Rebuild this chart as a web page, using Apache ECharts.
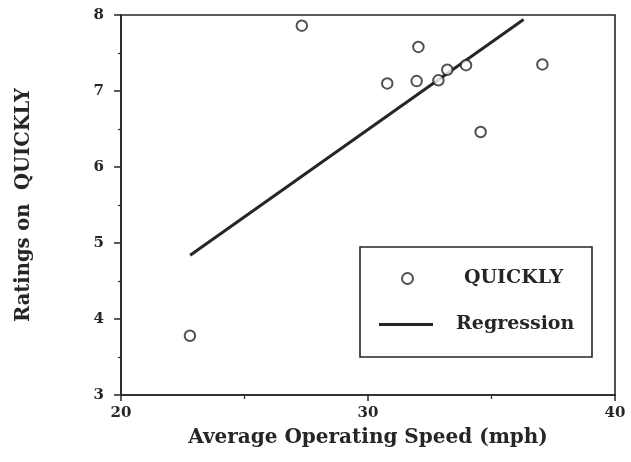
<!DOCTYPE html>
<html>
<head>
<meta charset="utf-8">
<script src="https://cdn.jsdelivr.net/npm/echarts@6/dist/echarts.min.js"></script>
<style>
  html, body { margin: 0; padding: 0; background: #fff; }
  #chart { width: 631px; height: 462px; }
</style>
</head>
<body>
<div id="chart"></div>
<script>
// Observed ratings against average operating speed
const speed  = [22.79, 27.32, 30.78, 31.97, 32.04, 32.85, 33.21, 33.97, 34.56, 37.06];
const rating = [3.78, 7.86, 7.10, 7.13, 7.58, 7.14, 7.28, 7.34, 6.46, 7.35];

// Fitted regression line endpoints
const regSpeed  = [22.8, 36.3];
const regRating = [4.84, 7.94];

const xTicks = { min: 20, max: 40, step: 10 };
const yTicks = { min: 3, max: 8, step: 1 };

const ink = '#262626';
const font = 'DejaVu Serif';

const chart = echarts.init(document.getElementById('chart'), null, { renderer: 'canvas' });

chart.setOption({
  backgroundColor: '#ffffff',
  animation: false,
  grid: {
    left: 121, right: 16, top: 15, bottom: 67,
    show: true, borderColor: ink, borderWidth: 1.6, backgroundColor: 'transparent'
  },
  xAxis: {
    type: 'value',
    min: xTicks.min, max: xTicks.max, interval: xTicks.step,
    name: 'Average Operating Speed (mph)',
    nameLocation: 'middle', nameGap: 33,
    nameTextStyle: { fontFamily: font, fontWeight: 'bold', fontSize: 20, color: ink },
    axisLine: { show: true, lineStyle: { color: ink, width: 1.6 } },
    axisTick: { show: true, length: 6, lineStyle: { color: ink, width: 1.5 } },
    minorTick: { show: true, splitNumber: 2, length: 4, lineStyle: { color: ink, width: 1.2 } },
    axisLabel: { fontFamily: font, fontWeight: 'bold', fontSize: 15, color: ink, margin: 11 },
    splitLine: { show: false }
  },
  yAxis: {
    type: 'value',
    min: yTicks.min, max: yTicks.max, interval: yTicks.step,
    name: 'Ratings on  QUICKLY',
    nameLocation: 'middle', nameGap: 87,
    nameTextStyle: { fontFamily: font, fontWeight: 'bold', fontSize: 19.5, color: ink },
    axisLine: { show: true, lineStyle: { color: ink, width: 1.6 } },
    axisTick: { show: true, length: 7, lineStyle: { color: ink, width: 1.5 } },
    minorTick: { show: true, splitNumber: 2, length: 3, lineStyle: { color: ink, width: 1.2 } },
    axisLabel: { fontFamily: font, fontWeight: 'bold', fontSize: 15, color: ink, margin: 17 },
    splitLine: { show: false }
  },
  legend: [
    {
      data: ['QUICKLY'],
      left: 401, top: 269, padding: 0,
      itemWidth: 11, itemHeight: 11,
      selectedMode: false,
      textStyle: { fontFamily: font, fontWeight: 'bold', fontSize: 19, color: ink, padding: [0, 0, 0, 46] }
    },
    {
      data: [{ name: 'Regression', icon: 'rect' }],
      left: 379, top: 315, padding: 0,
      itemWidth: 54, itemHeight: 3,
      selectedMode: false,
      textStyle: { fontFamily: font, fontWeight: 'bold', fontSize: 19, color: ink, padding: [0, 0, 0, 18] }
    }
  ],
  graphic: [
    {
      type: 'rect', z: 1,
      shape: { x: 360, y: 247, width: 232, height: 110 },
      style: { fill: '#fff', stroke: ink, lineWidth: 1.6 }
    }
  ],
  series: [
    {
      name: 'Regression',
      type: 'line',
      data: regSpeed.map((x, i) => [x, regRating[i]]),
      symbol: 'none',
      lineStyle: { color: ink, width: 3 },
      itemStyle: { color: ink },
      z: 3
    },
    {
      name: 'QUICKLY',
      type: 'scatter',
      data: speed.map((x, i) => [x, rating[i]]),
      symbol: 'emptyCircle',
      symbolSize: 10.5,
      itemStyle: { color: ink, borderWidth: 2 },
      z: 4
    }
  ]
});
</script>
</body>
</html>
